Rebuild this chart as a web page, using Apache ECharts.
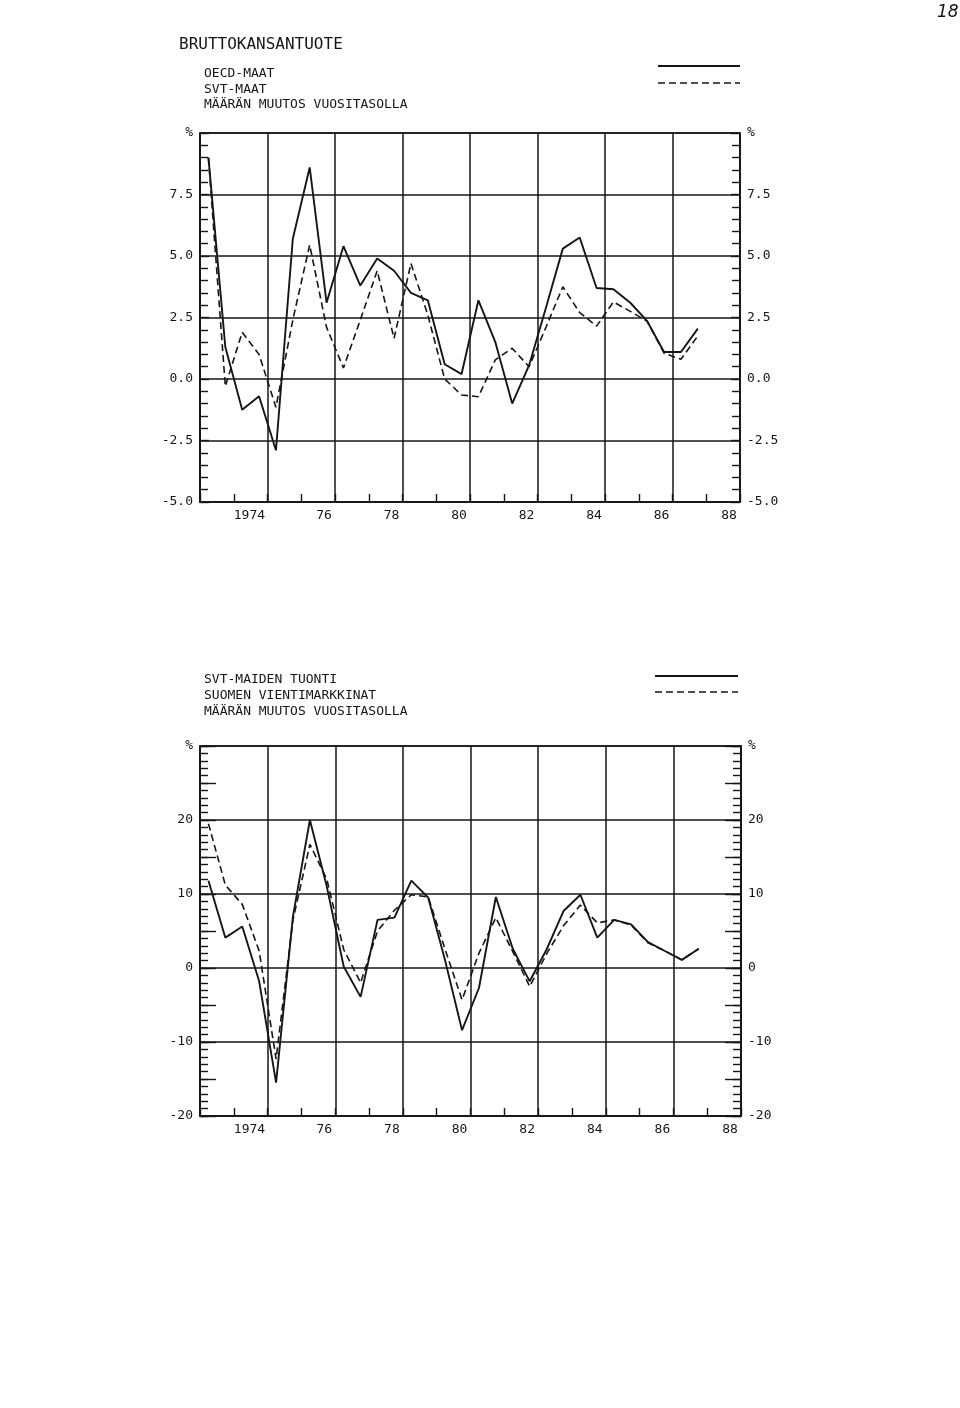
<!DOCTYPE html>
<html><head><meta charset="utf-8">
<script src="https://cdn.jsdelivr.net/npm/echarts@6/dist/echarts.min.js"></script>
<style>html,body{margin:0;padding:0;background:#fff}#c{width:960px;height:1408px}</style>
</head><body><div id="c"></div>
<script>
// half-year observation points (mid-points of each half-year)
const periods = [1973.25,1973.75,1974.25,1974.75,1975.25,1975.75,1976.25,1976.75,1977.25,1977.75,
  1978.25,1978.75,1979.25,1979.75,1980.25,1980.75,1981.25,1981.75,1982.25,1982.75,
  1983.25,1983.75,1984.25,1984.75,1985.25,1985.75,1986.25,1986.75,1987.25,1987.75];

// BRUTTOKANSANTUOTE, % change
const oecdGdp = [9.0,1.3,-1.25,-0.7,-2.9,5.7,8.6,3.1,5.4,3.8,
  4.9,4.4,3.5,3.2,0.6,0.2,3.2,1.5,-1.0,0.55,
  2.9,5.3,5.75,3.7,3.65,3.1,2.35,1.1,1.1,2.05];
const svtGdp = [9.0,-0.3,1.9,1.0,-1.15,2.4,5.45,2.1,0.45,2.4,
  4.4,1.65,4.7,2.6,0.0,-0.65,-0.72,0.78,1.25,0.5,
  2.1,3.75,2.7,2.15,3.13,2.75,2.35,1.05,0.8,1.75];

// SVT-MAIDEN TUONTI / SUOMEN VIENTIMARKKINAT, % change
const svtImports = [11.8,4.1,5.6,-1.8,-15.5,7.0,20.0,11.0,0.2,-3.9,
  6.5,6.8,11.8,9.5,1.0,-8.4,-2.7,9.6,2.6,-1.8,
  2.5,7.7,9.9,4.1,6.5,5.9,3.5,2.3,1.1,2.6];
const finExportMarkets = [19.5,11.2,8.6,2.3,-12.3,6.5,16.7,12.0,2.5,-2.0,
  5.0,7.8,9.9,9.6,2.5,-4.3,2.0,6.8,2.2,-2.5,
  1.9,5.7,8.5,6.1,6.5,5.8,3.4,2.3,1.1,2.6];

const xTickYears = [1974,1976,1978,1980,1982,1984,1986,1988];
const xTickLabels = ['1974','76','78','80','82','84','86','88'];

const MONO = "'DejaVu Sans Mono', 'Liberation Mono', monospace";
const INK = '#161616';
const GW = 1.5;

function pairs(vals){ return periods.map((x,i)=>[x, vals[i]]); }

function xAxesFor(g){
  return [
    { gridIndex:g, type:'value', min:1973, max:1989, interval:2,
      axisLine:{show:true, onZero:false, lineStyle:{color:INK, width:1.6}},
      axisTick:{show:false}, axisLabel:{show:false},
      splitLine:{show:true, lineStyle:{color:INK, width:GW}} },
    { gridIndex:g, type:'value', min:1973, max:1989, interval:1, position:'bottom',
      axisLine:{show:false, onZero:false}, splitLine:{show:false},
      axisTick:{show:true, inside:true, length:8, lineStyle:{color:INK, width:1.4}},
      axisLabel:{show:true, margin:7, align:'left', fontFamily:MONO, fontSize:13, color:INK,
        formatter:function(v){ const i = xTickYears.indexOf(Math.round(v));
          if(i<0 || Math.abs(v-Math.round(v))>1e-6) return '';
          return i===0 ? '{a|'+xTickLabels[i]+'}' : '{b|'+xTickLabels[i]+'}'; },
        rich:{ a:{fontFamily:MONO, fontSize:13, color:INK, padding:[0,0,0,0]},
               b:{fontFamily:MONO, fontSize:13, color:INK, padding:[0,0,0,15]} } } }
  ];
}

function yAxesFor(g, min, max, interval, minorSplit, fmt){
  const base = { gridIndex:g, type:'value', min:min, max:max, interval:interval,
      axisLine:{show:true, onZero:false, lineStyle:{color:INK, width:1.6}},
      axisTick:{show:true, inside:true, length:9, lineStyle:{color:INK, width:1.4}},
      minorTick:{show:true, splitNumber:minorSplit, length:8, lineStyle:{color:INK, width:1.4}},
      minorSplitLine:{show:false},
      axisLabel:{fontFamily:MONO, fontSize:13, color:INK, margin:7, formatter:fmt}
  };
  return [
    Object.assign({}, base, {position:'left', splitLine:{show:true, lineStyle:{color:INK, width:GW}}}),
    Object.assign({}, base, {position:'right', splitLine:{show:false}})
  ];
}

const gdpFmt = v => v===10 ? '%' : v.toFixed(1);
const tradeFmt = v => v===30 ? '%' : String(v);

const yAxes = [
  ...yAxesFor(0, -5, 10, 2.5, 5, gdpFmt),
  ...yAxesFor(1, -20, 30, 10, 10, tradeFmt),
  // longer ticks at every 5 on the lower chart
  { gridIndex:1, type:'value', min:-20, max:30, interval:5, position:'left',
    axisLine:{show:false, onZero:false}, splitLine:{show:false}, axisLabel:{show:false},
    axisTick:{show:true, inside:true, length:16, lineStyle:{color:INK, width:1.4}} },
  { gridIndex:1, type:'value', min:-20, max:30, interval:5, position:'right',
    axisLine:{show:false, onZero:false}, splitLine:{show:false}, axisLabel:{show:false},
    axisTick:{show:true, inside:true, length:16, lineStyle:{color:INK, width:1.4}} }
];

const solidStyle = {color:INK, width:1.9, type:'solid'};
const dashStyle = {color:INK, width:1.6, type:[7,4]};

function line(name, data, xi, yi, style){
  return { name:name, type:'line', xAxisIndex:xi, yAxisIndex:yi, data:pairs(data),
    symbol:'none', lineStyle:style, itemStyle:{color:INK}, animation:false, silent:true };
}

const txt = {fontFamily:MONO, fontWeight:'normal', color:INK};

const option = {
  backgroundColor:'#fff',
  animation:false,
  title:[
    {text:'BRUTTOKANSANTUOTE', left:174, top:32, textStyle:Object.assign({fontSize:16}, txt)},
    {text:'OECD-MAAT\nSVT-MAAT\nMÄÄRÄN MUUTOS VUOSITASOLLA', left:199, top:61,
      textStyle:Object.assign({fontSize:13, lineHeight:15.5}, txt)},
    {text:'SVT-MAIDEN TUONTI\nSUOMEN VIENTIMARKKINAT\nMÄÄRÄN MUUTOS VUOSITASOLLA', left:199, top:667,
      textStyle:Object.assign({fontSize:13, lineHeight:16}, txt)}
  ],
  graphic:[
    {type:'line', shape:{x1:658,y1:66,x2:740,y2:66}, style:{stroke:INK, lineWidth:1.8}},
    {type:'line', shape:{x1:658,y1:83,x2:740,y2:83}, style:{stroke:INK, lineWidth:1.5, lineDash:[7,4]}},
    {type:'line', shape:{x1:655,y1:676,x2:738,y2:676}, style:{stroke:INK, lineWidth:1.8}},
    {type:'line', shape:{x1:655,y1:692,x2:738,y2:692}, style:{stroke:INK, lineWidth:1.5, lineDash:[7,4]}},
    {type:'text', left:937, top:4, style:{text:'18', font:'italic 17px "DejaVu Sans"', fill:INK}}
  ],
  grid:[
    {left:200, top:133, width:540, height:369, show:true, borderColor:INK, borderWidth:1.6, backgroundColor:'transparent'},
    {left:200, top:746, width:541, height:370, show:true, borderColor:INK, borderWidth:1.6, backgroundColor:'transparent'}
  ],
  xAxis:[...xAxesFor(0), ...xAxesFor(1)],
  yAxis:yAxes,
  series:[
    line('OECD-MAAT', oecdGdp, 0, 0, solidStyle),
    line('SVT-MAAT', svtGdp, 0, 0, dashStyle),
    line('SVT-MAIDEN TUONTI', svtImports, 2, 2, solidStyle),
    line('SUOMEN VIENTIMARKKINAT', finExportMarkets, 2, 2, dashStyle)
  ]
};
const chart = echarts.init(document.getElementById('c'), null, {renderer:'canvas'});
chart.setOption(option);
</script></body></html>
